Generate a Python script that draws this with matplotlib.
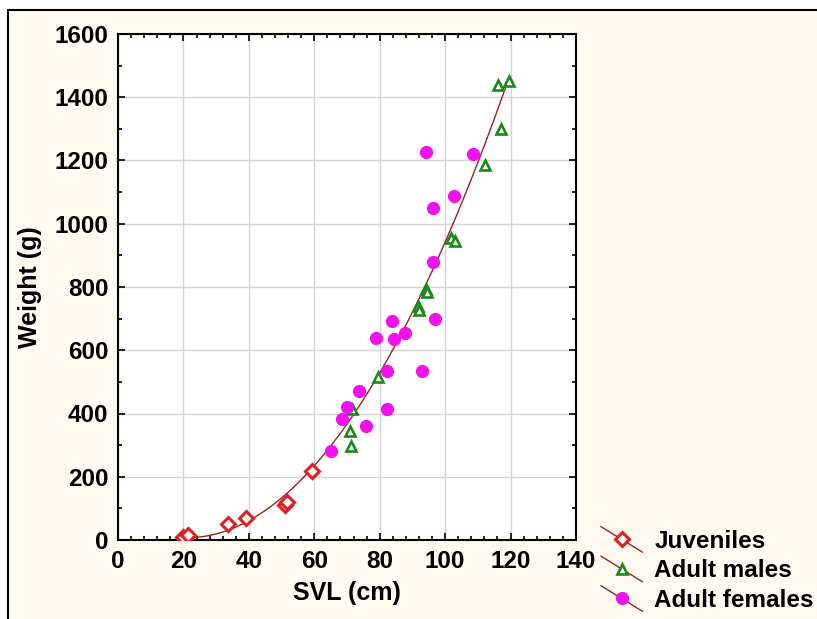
import numpy as np
import matplotlib
matplotlib.use("Agg")
import matplotlib.pyplot as plt
from matplotlib.lines import Line2D
from matplotlib.patches import Rectangle
from matplotlib.legend_handler import HandlerBase
from matplotlib.ticker import MultipleLocator

plt.rcParams['font.family'] = ['Liberation Sans', 'DejaVu Sans']
plt.rcParams['font.weight'] = 'bold'

# data
juv_svl = [19.9, 21.4, 33.6, 39.1, 51.1, 51.7, 59.3]
juv_wt = [9, 15, 50, 69, 112, 121, 218]

male_svl = [71.0, 71.3, 71.6, 79.5, 91.7, 92.0, 94.0, 94.6, 101.8, 103.1, 112.2, 117.1, 116.2, 119.6]
male_wt = [344, 297, 413, 515, 741, 726, 795, 785, 956, 946, 1186, 1300, 1439, 1451]

fem_svl = [65.1, 68.6, 70.0, 73.7, 75.8, 78.8, 82.1, 82.1, 83.8, 84.4, 87.8, 93.0, 94.2, 96.3, 96.3, 97.0, 102.8, 108.6]
fem_wt = [281, 384, 420, 470, 360, 640, 534, 413, 693, 637, 654, 533, 1227, 1050, 880, 700, 1088, 1221]

fit_color = '#9a2222'
bg = '#fffbf0'

W, H = 817, 619
fig = plt.figure(figsize=(W / 100, H / 100), dpi=100)
fig.patch.set_facecolor('white')
# cream panel with a frame, like the original export
fig.patches.append(Rectangle((8 / W, -0.05), 1.1, (H - 10) / H + 0.05, transform=fig.transFigure,
                             facecolor=bg, edgecolor='black', lw=1.5, zorder=-10))

ax = fig.add_axes([118 / W, 1 - 540 / H, (576 - 118) / W, (540 - 34) / H])
ax.set_facecolor('white')

# quadratic fit over all points
all_x = np.array(juv_svl + male_svl + fem_svl)
all_y = np.array(juv_wt + male_wt + fem_wt)
coef = np.polyfit(all_x, all_y, 2)
xs = np.linspace(all_x.min(), all_x.max(), 200)
ax.plot(xs, np.polyval(coef, xs), color=fit_color, lw=1, zorder=3)

h1, = ax.plot(juv_svl, juv_wt, linestyle='none', marker='D', ms=7, mfc='white',
              mec='#e02020', mew=2.2, zorder=4, label='Juveniles')
h2, = ax.plot(male_svl, male_wt, linestyle='none', marker='^', ms=7.5, mfc='white',
              mec='#1a8a1a', mew=1.9, zorder=4, label='Adult males')
h3, = ax.plot(fem_svl, fem_wt, linestyle='none', marker='o', ms=8.5, mfc='#f010f0',
              mec='#f010f0', zorder=4, label='Adult females')

ax.set_xlim(0, 140)
ax.set_ylim(0, 1600)
ax.xaxis.set_major_locator(MultipleLocator(20))
ax.xaxis.set_minor_locator(MultipleLocator(4))
ax.yaxis.set_major_locator(MultipleLocator(200))
ax.yaxis.set_minor_locator(MultipleLocator(100))
ax.tick_params(which='both', direction='in', top=True, right=True, labelsize=17.5, width=1.2)
ax.tick_params(which='major', length=5, pad=7)
ax.tick_params(which='minor', length=3)
ax.grid(True, which='major', color='#d4d4d4', lw=1)
ax.set_axisbelow(True)
for s in ax.spines.values():
    s.set_linewidth(1.5)

ax.set_xlabel('SVL (cm)', fontsize=18, fontweight='bold', labelpad=6)
ax.set_ylabel('Weight (g)', fontsize=18, fontweight='bold', labelpad=9)


class SlantHandler(HandlerBase):
    def create_artists(self, legend, orig_handle, xdescent, ydescent, width, height, fontsize, trans):
        x0, x1 = -xdescent, -xdescent + width
        y0, y1 = -ydescent + height * 1.25, -ydescent - height * 0.25
        ln = Line2D([x0, x1], [y0, y1], color=fit_color, lw=1, transform=trans)
        mk = Line2D([(x0 + x1) / 2], [(y0 + y1) / 2], linestyle='none',
                    marker=orig_handle.get_marker(), ms=orig_handle.get_markersize(),
                    mfc=orig_handle.get_markerfacecolor(), mec=orig_handle.get_markeredgecolor(),
                    mew=orig_handle.get_markeredgewidth(), transform=trans)
        return [ln, mk]


hmap = {h: SlantHandler() for h in (h1, h2, h3)}
fig.legend(handles=[h1, h2, h3], handler_map=hmap, loc='lower left',
           bbox_to_anchor=(601 / W, 1 - 612 / H), frameon=False,
           prop={'size': 17.5, 'weight': 'bold'}, handlelength=1.7, handletextpad=0.5,
           labelspacing=0.27, borderpad=0, borderaxespad=0)

fig.savefig('out.png', dpi=100, facecolor=fig.get_facecolor())
